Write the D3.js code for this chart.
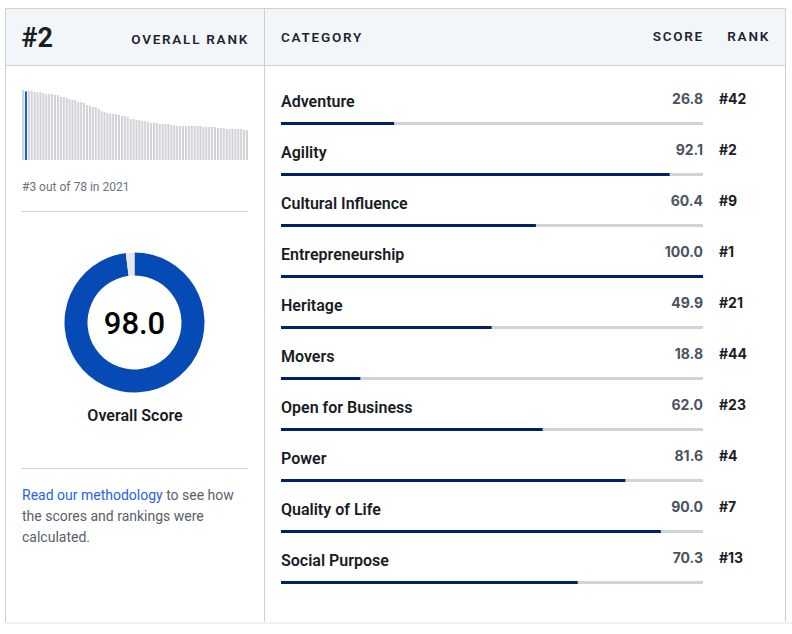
<!DOCTYPE html>
<html>
<head>
<meta charset="utf-8">
<style>
  html, body { margin: 0; padding: 0; background: #fff; }
  text { font-family: Roboto, sans-serif; }
  .head { font-size: 13.5px; font-weight: 600; letter-spacing: 1.75px; fill: #1f2430; }
  .cat { font-size: 16px; font-weight: 600; fill: #191c24; }
  .num { font-family: Inter, sans-serif; font-size: 14px; font-weight: 700; }
</style>
</head>
<body>
<div id="viz"></div>
<script src="https://d3js.org/d3.v7.min.js"></script>
<script>
  const categories = ["Adventure", "Agility", "Cultural Influence", "Entrepreneurship", "Heritage", "Movers", "Open for Business", "Power", "Quality of Life", "Social Purpose"];
  const scores = [26.8, 92.1, 60.4, 100.0, 49.9, 18.8, 62.0, 81.6, 90.0, 70.3];
  const ranks = ["#42", "#2", "#9", "#1", "#21", "#44", "#23", "#4", "#7", "#13"];

  // all 78 countries
  const allScores = [100, 98, 98.6, 98.6, 97.1, 97.1, 97.1, 95.7, 94.3, 94.3, 94.3, 92.9, 92.9, 90, 90, 88.6, 87.1, 85.7, 85.7, 82.9,
    82.9, 81.4, 78.6, 77.1, 75.7, 75.7, 72.9, 70, 68.6, 67.1, 65.7, 65.7, 65.7, 64.3, 62.9, 62.9, 61.4,
    58.6, 58.6, 57.1, 57.1, 55.7, 55.7, 54.3, 52.9, 52.9, 52.9, 51.4, 51.4, 51.4, 51.4, 50, 50,
    48.6, 48.6, 48.6, 48.6, 48.6, 48.6, 48.6, 48.6, 48.6, 47.1, 47.1, 47.1, 47.1, 47.1, 45.7, 45.7, 45.7,
    44.3, 44.3, 44.3, 44.3, 44.3, 44.3, 42.9, 42.9];
  const highlightIndex = 1;

  const overallScore = 98.0;

  const width = 792, height = 634;

  const svg = d3.select("#viz").append("svg")
      .attr("width", width)
      .attr("height", height)
      .style("display", "block");

  // frame
  svg.append("rect").attr("x", 5).attr("y", 8.5).attr("width", 780).attr("height", 57)
      .attr("fill", "#f3f6f9");
  const border = "#cfd0d2";
  svg.append("path").attr("fill", "none").attr("stroke", border)
      .attr("d", "M5.5,630V8.5H785.5V630M5.5,65.5H785.5M264.5,8.5V630M22,211.5H248M22,468.5H248");

  // white strip at the bottom, page content cut off there
  svg.append("rect").attr("x", 5).attr("y", 622).attr("width", 787).attr("height", 1).attr("fill", "#f4f4f4");
  svg.append("rect").attr("x", 5).attr("y", 623).attr("width", 787).attr("height", 1).attr("fill", "#f0f0f0");
  svg.append("rect").attr("x", 5).attr("y", 624).attr("width", 787).attr("height", 10).attr("fill", "#fff");
  svg.append("rect").attr("x", 0).attr("y", 624).attr("width", 5).attr("height", 10).attr("fill", "#fff");

  // header
  svg.append("text").attr("x", 21.5).attr("y", 47)
      .attr("font-size", 27).attr("font-weight", 700).attr("fill", "#1b1e27").text("#2");
  svg.append("text").attr("class", "head").attr("x", 249).attr("y", 44)
      .attr("text-anchor", "end").text("OVERALL RANK");
  svg.append("text").attr("class", "head").attr("x", 281).attr("y", 42).text("CATEGORY");
  svg.append("text").attr("class", "head").attr("x", 704).attr("y", 41)
      .attr("text-anchor", "end").text("SCORE");
  svg.append("text").attr("class", "head").attr("x", 770).attr("y", 41)
      .attr("text-anchor", "end").text("RANK");

  // bar strip
  const stripX = d3.scaleBand()
      .domain(d3.range(allScores.length))
      .range([22, 248])
      .paddingInner(0.3);
  const stripY = d3.scaleLinear().domain([0, 100]).range([160, 90]);

  svg.append("g").selectAll("rect")
      .data(allScores)
    .enter().append("rect")
      .attr("x", (d, i) => stripX(i))
      .attr("y", d => stripY(d))
      .attr("width", stripX.bandwidth())
      .attr("height", d => stripY(0) - stripY(d))
      .attr("fill", (d, i) => i === highlightIndex ? "#0f5fd6" : "#d1d3d8");

  svg.append("text").attr("x", 22).attr("y", 191)
      .attr("font-size", 12).attr("fill", "#6b7280").text("#3 out of 78 in 2021");

  // donut
  const pie = d3.pie().sort(null).startAngle(0).endAngle(2 * Math.PI);
  const arc = d3.arc().innerRadius(47).outerRadius(70);
  const donut = svg.append("g").attr("transform", "translate(134.5,322.5)");

  donut.selectAll("path")
      .data(pie([overallScore, 100 - overallScore]))
    .enter().append("path")
      .attr("d", arc)
      .attr("fill", (d, i) => i === 0 ? "#064ab6" : "#e5e7eb");

  donut.append("text").attr("text-anchor", "middle").attr("y", 11)
      .attr("font-family", "Inter, sans-serif").attr("font-size", 31).attr("font-weight", 500)
      .attr("fill", "#000").text(overallScore.toFixed(1));

  svg.append("text").attr("x", 135).attr("y", 421).attr("text-anchor", "middle")
      .attr("font-size", 16).attr("font-weight", 600).attr("fill", "#191c24").text("Overall Score");

  // methodology note
  const note = svg.append("g").attr("font-size", 14).attr("fill", "#5a606b");
  const first = note.append("text").attr("x", 22).attr("y", 500);
  first.append("tspan").attr("fill", "#2563eb").text("Read our methodology");
  first.append("tspan").text(" to see how");
  note.append("text").attr("x", 22).attr("y", 521).text("the scores and rankings were");
  note.append("text").attr("x", 22).attr("y", 542).text("calculated.");

  // category rows
  const rowY = d3.scaleBand().domain(categories).range([82, 592]);
  const barX = d3.scaleLinear().domain([0, 100]).range([281, 703]);

  const rows = svg.append("g").selectAll("g")
      .data(categories)
    .enter().append("g")
      .attr("transform", d => `translate(0,${rowY(d)})`);

  rows.append("text").attr("class", "cat").attr("x", 281).attr("y", 25).text(d => d);

  rows.append("text").attr("class", "num").attr("x", 703).attr("y", 22)
      .attr("text-anchor", "end").attr("fill", "#4b5260")
      .text((d, i) => scores[i].toFixed(1));

  rows.append("text").attr("class", "num").attr("x", 719).attr("y", 22)
      .attr("fill", "#1b1e27").text((d, i) => ranks[i]);

  rows.append("rect").attr("x", barX(0)).attr("y", 40)
      .attr("width", barX(100) - barX(0)).attr("height", 3).attr("fill", "#d1d3d8");

  rows.append("rect").attr("x", barX(0)).attr("y", 40)
      .attr("width", (d, i) => barX(scores[i]) - barX(0)).attr("height", 3).attr("fill", "#021f6b");
</script>
</body>
</html>
